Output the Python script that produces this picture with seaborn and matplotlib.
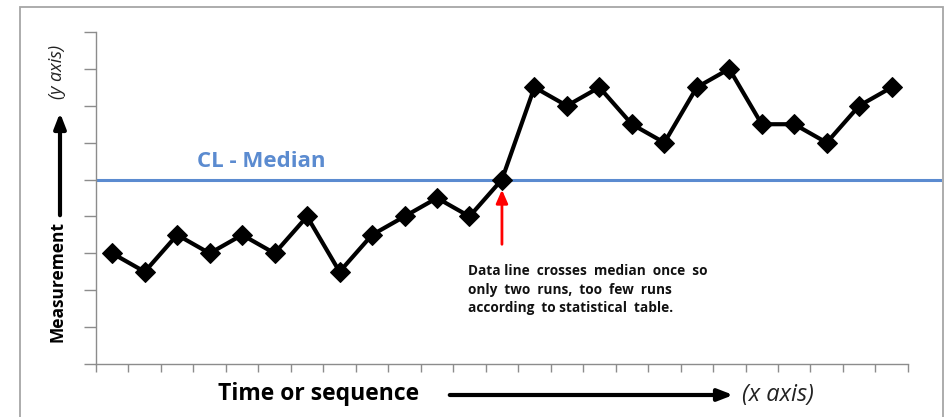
import numpy as np
import pandas as pd
import seaborn as sns
import matplotlib.pyplot as plt
from matplotlib.patches import Rectangle

# ======================================
# DATA
# ======================================
positions = np.arange(25) + 0.5
values = [3, 2.5, 3.5, 3, 3.5, 3, 4, 2.5, 3.5, 4, 4.5, 4, 5,
          7.5, 7, 7.5, 6.5, 6, 7.5, 8, 6.5, 6.5, 6, 7, 7.5]
median_value = 5
note = ("Data line  crosses  median  once  so\n"
        "only  two  runs,  too  few  runs\n"
        "according  to statistical  table.")

df = pd.DataFrame({"t": positions, "value": values})

# ======================================
# STYLE
# ======================================
sns.set_style("white")
plt.rcParams["font.family"] = ["Open Sans", "DejaVu Sans"]

W, H = 950, 417
fig = plt.figure(figsize=(9.5, 4.17), dpi=100)
ax = fig.add_axes([96 / W, 1 - 364 / H, (942 - 96) / W, (364 - 32) / H])

# outer frame
fig.patches.append(Rectangle((20 / W, -0.05), (943 - 20) / W, (1 - 7 / H) + 0.05,
                             transform=fig.transFigure, fill=False,
                             edgecolor="#a6a6a6", linewidth=1.3))

# ======================================
# PLOT
# ======================================
ax.axhline(median_value, color="#5b8bd0", linewidth=2.2, zorder=1)
sns.lineplot(data=df, x="t", y="value", ax=ax, color="black", linewidth=3,
             marker="D", markersize=10, markeredgecolor="black", zorder=3)

grey = "#8c8c8c"
ax.set_xlim(0, 26.05)
ax.set_ylim(0, 9)
ax.set_xticks(np.arange(26))
ax.set_yticks(np.arange(10))
ax.set_xticklabels([])
ax.set_yticklabels([])
ax.tick_params(axis="both", direction="out", color=grey, width=1,
               bottom=True, left=True)
ax.tick_params(axis="x", length=6)
ax.tick_params(axis="y", length=9)
for side in ["top", "right"]:
    ax.spines[side].set_visible(False)
for side in ["left", "bottom"]:
    ax.spines[side].set_color(grey)
    ax.spines[side].set_linewidth(1)
ax.spines["bottom"].set_bounds(0, 25)
ax.set_xlabel("")
ax.set_ylabel("")
ax.patch.set_alpha(0)

# ======================================
# ANNOTATIONS
# ======================================
ax.text(3.1, 5.2, "CL - Median", color="#5b8bd0", fontsize=16,
        fontweight="bold", ha="left", va="bottom")

ax.annotate("", xy=(12.5, 4.8), xytext=(12.5, 3.17),
            arrowprops=dict(arrowstyle="-|>,head_width=0.35,head_length=0.8",
                            color="red", linewidth=2))
ax.text(11.45, 2.7, note, fontsize=9.8, fontweight="bold", ha="left", va="top",
        linespacing=1.4, color="#111111")

# axis labels with arrows (figure pixels)
fig.text(218 / W, 1 - 394 / H, "Time or sequence", fontsize=16.5,
         fontweight="bold", ha="left", va="center", color="black")
ax.annotate("", xy=(736, H - 395), xytext=(447, H - 395),
            xycoords="figure pixels", textcoords="figure pixels",
            arrowprops=dict(arrowstyle="-|>,head_width=0.35,head_length=0.9",
                            color="black", linewidth=3), annotation_clip=False)
fig.text(742 / W, 1 - 395 / H, "(x axis)", fontsize=17, style="italic",
         ha="left", va="center", color="#222222")

fig.text(58 / W, 1 - 281 / H, "Measurement", fontsize=12.5, fontweight="bold",
         rotation=90, ha="center", va="center", color="black")
ax.annotate("", xy=(60, H - 110), xytext=(60, H - 218),
            xycoords="figure pixels", textcoords="figure pixels",
            arrowprops=dict(arrowstyle="-|>,head_width=0.35,head_length=0.9",
                            color="black", linewidth=3), annotation_clip=False)
fig.text(57 / W, 1 - 72 / H, "(y axis)", fontsize=13, style="italic",
         rotation=90, ha="center", va="center", color="#222222")

plt.savefig("out.png", dpi=100)
plt.close()
